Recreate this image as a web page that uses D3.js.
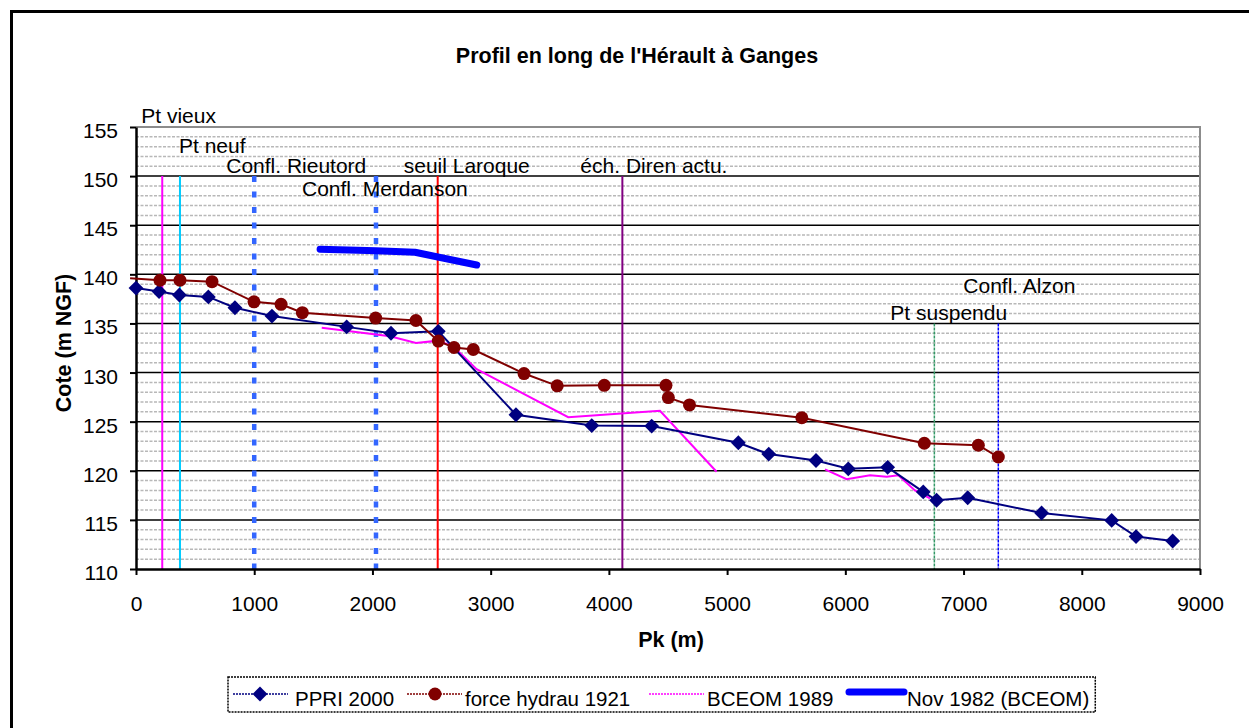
<!DOCTYPE html>
<html>
<head>
<meta charset="utf-8">
<script src="https://cdn.jsdelivr.net/npm/d3@7"></script>
<style>
	body{ margin:0; background:#fff; }
	text{ font-family: Arial, 'Liberation Sans', sans-serif; fill:#000; }
</style>
</head>
<body>
<svg id="profil" width="1249" height="728"></svg>
<script>
'use strict'

// Pk (m), cote (m NGF)
var ppri2000 = [
	[0, 138.6], [195, 138.25], [367, 137.9], [612, 137.7], [837, 136.6], [1150, 135.75],
	[1782, 134.65], [2157, 134.0], [2557, 134.2], [3214, 125.7], [3855, 124.6], [4362, 124.55],
	[5095, 122.85], [5352, 121.7], [5752, 121.05], [6025, 120.2], [6358, 120.35], [6659, 117.85],
	[6772, 117.0], [7035, 117.25], [7660, 115.7], [8253, 114.95], [8459, 113.3], [8769, 112.85]
];
var force1921 = [
	[-50, 139.6], [203, 139.4], [372, 139.4], [643, 139.25], [998, 137.2], [1227, 136.95],
	[1407, 136.1], [2027, 135.55], [2368, 135.3], [2557, 133.2], [2690, 132.55], [2853, 132.35],
	[3282, 129.9], [3563, 128.65], [3961, 128.7], [4483, 128.7], [4503, 127.45], [4682, 126.7],
	[5632, 125.4], [6668, 122.8], [7125, 122.6], [7294, 121.4]
];
var bceom1989 = [
	[1571, 134.55], [2149, 133.7], [2368, 133.0], [2557, 133.25], [2690, 132.6], [2881, 130.35],
	[3656, 125.45], [4432, 126.1], [4911, 119.9], [null, null],
	[5828, 120.15], [6011, 119.15], [6209, 119.55], [6350, 119.4], [6448, 119.55], [6589, 118.0], [6716, 117.2]
];
var nov1982 = [
	[1557, 142.55], [2030, 142.4], [2360, 142.25], [2882, 140.95]
];

var repereNames = ['Pt vieux', 'Pt neuf', 'Confl. Rieutord', 'Confl. Merdanson', 'seuil Laroque', 'éch. Diren actu.', 'Pt suspendu', 'Confl. Alzon'];
var reperePk = [222, 372, 1000, 2030, 2552, 4114, 6753, 7294];
var repereTop = [150, 150, 150, 150, 150, 150, 135, 135];

var xTicks = [0, 1000, 2000, 3000, 4000, 5000, 6000, 7000, 8000, 9000];
var yTicks = [110, 115, 120, 125, 130, 135, 140, 145, 150, 155];

var seriesNames = ['PPRI 2000', 'force hydrau 1921', 'BCEOM 1989', 'Nov 1982 (BCEOM)'];

// styles des repères
var repereStyle = [
	{ color: '#FF00FF', width: 2, dash: null },
	{ color: '#00CCFF', width: 2, dash: null },
	{ color: '#3366FF', width: 4.5, dash: '6,9.5' },
	{ color: '#3366FF', width: 4.5, dash: '6,9.5' },
	{ color: '#FF0000', width: 2, dash: null },
	{ color: '#800080', width: 2, dash: null },
	{ color: '#339966', width: 1.5, dash: '3,1' },
	{ color: '#0000FF', width: 1.5, dash: '3,1' }
];
// décalage des étiquettes par rapport au haut du repère
var labelShift = [[-21, -53], [-1, -23], [-28, -3], [-74, 20], [-34, -3], [-42, -3], [-44, -3], [-35, -30]];

var svg = d3.select('#profil');
var plot = { left: 136, right: 1200, top: 127, bottom: 569 };

var xScale = d3.scaleLinear().domain([0, 9000]).range([plot.left, plot.right]);
var yScale = d3.scaleLinear().domain([110, 155]).range([plot.bottom, plot.top]);

// cadre du graphique
svg.append('rect')
	.attr('x', 11.5).attr('y', 11.5)
	.attr('width', 1260).attr('height', 760)
	.attr('fill', '#fff')
	.attr('stroke', '#000')
	.attr('stroke-width', 3);

// quadrillage secondaire
var minor = d3.range(111, 155).filter(function(v){ return v % 5 !== 0; });
svg.append('g')
	.selectAll('line')
	.data(minor)
	.enter()
	.append('line')
	.attr('x1', plot.left).attr('x2', plot.right)
	.attr('y1', function(d){ return yScale(d); })
	.attr('y2', function(d){ return yScale(d); })
	.attr('stroke', '#b8b8b8')
	.attr('stroke-width', 1.5)
	.attr('stroke-dasharray', '3,1.5');

// quadrillage principal
svg.append('g')
	.selectAll('line')
	.data(yTicks.filter(function(v){ return v > 110 && v < 155; }))
	.enter()
	.append('line')
	.attr('x1', plot.left).attr('x2', plot.right)
	.attr('y1', function(d){ return yScale(d); })
	.attr('y2', function(d){ return yScale(d); })
	.attr('stroke', '#000')
	.attr('stroke-width', 1.5);

// bord haut / droit
svg.append('path')
	.attr('d', `M${plot.left},${plot.top}H${plot.right}V${plot.bottom}`)
	.attr('fill', 'none')
	.attr('stroke', '#8c8c8c')
	.attr('stroke-width', 2);

// repères verticaux
var reperes = repereNames.map(function(name, i){
	return { name: name, pk: reperePk[i], top: repereTop[i], style: repereStyle[i], shift: labelShift[i] };
});

svg.append('g')
	.selectAll('line')
	.data(reperes)
	.enter()
	.append('line')
	.attr('x1', function(d){ return xScale(d.pk); })
	.attr('x2', function(d){ return xScale(d.pk); })
	.attr('y1', function(d){ return yScale(d.top); })
	.attr('y2', yScale(110))
	.attr('stroke', function(d){ return d.style.color; })
	.attr('stroke-width', function(d){ return d.style.width; })
	.attr('stroke-dasharray', function(d){ return d.style.dash; });

svg.append('g')
	.selectAll('text')
	.data(reperes)
	.enter()
	.append('text')
	.attr('x', function(d){ return xScale(d.pk) + d.shift[0]; })
	.attr('y', function(d){ return yScale(d.top) + d.shift[1]; })
	.attr('font-size', 21)
	.text(function(d){ return d.name; });

// axes
var yAxis = svg.append('g')
	.attr('transform', `translate(${plot.left},0)`)
	.call(d3.axisLeft(yScale).tickValues(yTicks).tickSize(6).tickPadding(12).tickSizeOuter(0));
var xAxis = svg.append('g')
	.attr('transform', `translate(0,${plot.bottom})`)
	.call(d3.axisBottom(xScale).tickValues(xTicks).tickFormat(d3.format('d')).tickSize(6).tickPadding(21).tickSizeOuter(0));

[yAxis, xAxis].forEach(function(axis){
	axis.select('.domain').attr('stroke', '#000').attr('stroke-width', 2.5);
	axis.selectAll('.tick line').attr('stroke', '#000').attr('stroke-width', 2);
	axis.selectAll('.tick text')
		.attr('font-size', 21)
		.attr('font-family', 'Arial, Liberation Sans, sans-serif')
		.attr('fill', '#000');
});
yAxis.selectAll('.tick text').attr('dy', '0.5em');

// séries
var line = d3.line()
	.defined(function(d){ return d[0] !== null; })
	.x(function(d){ return xScale(d[0]); })
	.y(function(d){ return yScale(d[1]); });

svg.append('path')
	.datum(bceom1989)
	.attr('d', line)
	.attr('fill', 'none')
	.attr('stroke', '#FF00FF')
	.attr('stroke-width', 2);

svg.append('path')
	.datum(nov1982)
	.attr('d', line)
	.attr('fill', 'none')
	.attr('stroke', '#0000FF')
	.attr('stroke-width', 7)
	.attr('stroke-linecap', 'round')
	.attr('stroke-linejoin', 'round');

svg.append('path')
	.datum(ppri2000)
	.attr('d', line)
	.attr('fill', 'none')
	.attr('stroke', '#000080')
	.attr('stroke-width', 2);

svg.append('path')
	.datum(force1921)
	.attr('d', line)
	.attr('fill', 'none')
	.attr('stroke', '#800000')
	.attr('stroke-width', 2);

var diamond = d3.symbol().type(d3.symbolSquare).size(110);

svg.append('g')
	.selectAll('path')
	.data(ppri2000)
	.enter()
	.append('path')
	.attr('d', diamond)
	.attr('transform', function(d){ return `translate(${xScale(d[0])},${yScale(d[1])}) rotate(45)`; })
	.attr('fill', '#000080');

svg.append('g')
	.selectAll('circle')
	.data(force1921.filter(function(d){ return d[0] >= 0; }))
	.enter()
	.append('circle')
	.attr('r', 6.5)
	.attr('cx', function(d){ return xScale(d[0]); })
	.attr('cy', function(d){ return yScale(d[1]); })
	.attr('fill', '#800000');

// titres
svg.append('text')
	.attr('x', 637).attr('y', 63)
	.attr('text-anchor', 'middle')
	.attr('font-size', 21.5)
	.attr('font-weight', 'bold')
	.text("Profil en long de l'Hérault à Ganges");

svg.append('text')
	.attr('transform', 'translate(71,343) rotate(-90)')
	.attr('text-anchor', 'middle')
	.attr('font-size', 21.5)
	.attr('font-weight', 'bold')
	.text('Cote (m NGF)');

svg.append('text')
	.attr('x', 671).attr('y', 647)
	.attr('text-anchor', 'middle')
	.attr('font-size', 21.5)
	.attr('font-weight', 'bold')
	.text('Pk (m)');

// légende
var legend = svg.append('g');
var legendX = [233, 407, 649, 849];
var legendY = 694;
var legendBox = legend.append('rect')
	.attr('x', 228).attr('y', 677)
	.attr('height', 35)
	.attr('fill', '#fff')
	.attr('stroke', '#000')
	.attr('stroke-width', 1.5)
	.attr('stroke-dasharray', '2,1');

var legendStyle = [
	{ color: '#000080', width: 1.5, dash: '2,1' },
	{ color: '#800000', width: 1.5, dash: '2,1' },
	{ color: '#FF00FF', width: 1.5, dash: '2,1' },
	{ color: '#0000FF', width: 7, dash: null }
];

var lastEnd = 0;
seriesNames.forEach(function(name, i){
	var x0 = legendX[i];
	legend.append('line')
		.attr('x1', x0).attr('x2', x0 + 55)
		.attr('y1', i === 3 ? legendY - 2 : legendY)
		.attr('y2', i === 3 ? legendY - 2 : legendY)
		.attr('stroke', legendStyle[i].color)
		.attr('stroke-width', legendStyle[i].width)
		.attr('stroke-linecap', i === 3 ? 'round' : 'butt')
		.attr('stroke-dasharray', legendStyle[i].dash);
	if(i === 0)
		legend.append('path')
			.attr('d', diamond)
			.attr('transform', `translate(${x0 + 27},${legendY}) rotate(45)`)
			.attr('fill', '#000080');
	if(i === 1)
		legend.append('circle')
			.attr('cx', x0 + 28).attr('cy', legendY)
			.attr('r', 6.5)
			.attr('fill', '#800000');
	var t = legend.append('text')
		.attr('x', x0 + (i === 0 ? 62 : 58))
		.attr('y', 706)
		.attr('font-size', 20.5)
		.text(name);
	lastEnd = x0 + (i === 0 ? 62 : 58) + t.node().getComputedTextLength();
});
legendBox.attr('width', lastEnd + 6 - 228);
</script>
</body>
</html>
